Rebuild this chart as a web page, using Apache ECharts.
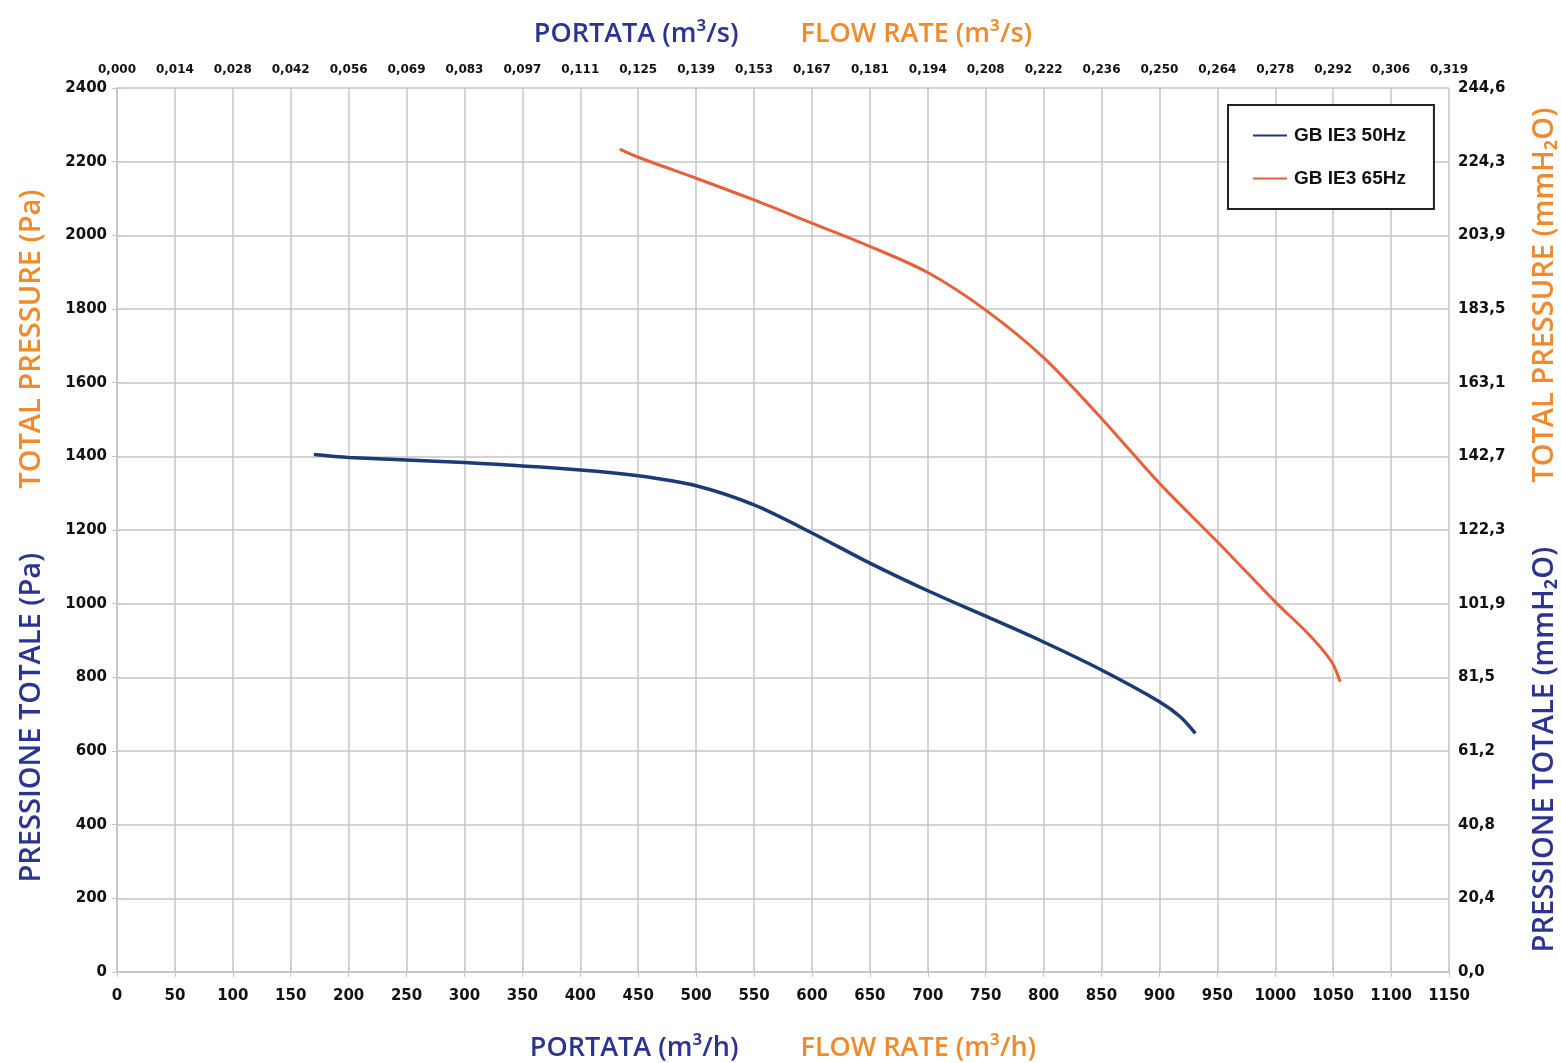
<!DOCTYPE html>
<html>
<head>
<meta charset="utf-8">
<script src="https://cdn.jsdelivr.net/npm/echarts@6/dist/echarts.min.js"></script>
<style>
  html, body { margin: 0; padding: 0; background: #fff; }
  #main { width: 1561px; height: 1063px; }
</style>
</head>
<body>
<div id="main"></div>
<script>
// curve points (flow m3/h, pressure Pa)
var blueX = [170, 200, 300, 400, 450, 500, 550, 600, 650, 700, 750, 800, 850, 900, 918, 931];
var blueY = [1405, 1397, 1383, 1363, 1347, 1320, 1268, 1192, 1110, 1035, 966, 896, 820, 734, 693, 648];
var orangeX = [434, 450, 500, 550, 600, 650, 700, 750, 800, 850, 900, 950, 1000, 1025, 1040, 1050, 1056];
var orangeY = [2234, 2212, 2155, 2096, 2033, 1970, 1899, 1797, 1668, 1503, 1327, 1168, 1005, 929, 878, 835, 788];

var seriesNames = ['GB IE3 50Hz', 'GB IE3 65Hz'];

// secondary axis labels (m3/s on top, mmH2O on the right)
var topTickLabels = ['0,000', '0,014', '0,028', '0,042', '0,056', '0,069', '0,083', '0,097', '0,111', '0,125',
    '0,139', '0,153', '0,167', '0,181', '0,194', '0,208', '0,222', '0,236', '0,250', '0,264',
    '0,278', '0,292', '0,306', '0,319'];
var rightTickLabels = ['0,0', '20,4', '40,8', '61,2', '81,5', '101,9', '122,3', '142,7', '163,1',
    '183,5', '203,9', '224,3', '244,6'];

var NAVY = '#2b3590';
var ORANGE = '#f08a2c';
var gridColor = '#c6c6c6';
var titleFont = "'Open Sans', sans-serif";

function pairs(xs, ys) {
    var out = [];
    for (let i = 0; i < xs.length; i++) {
        out.push([xs[i], ys[i]]);
    }
    return out;
}

function rich(size, gap) {
    return {
        b: { color: NAVY, fontSize: size, fontWeight: 600, fontFamily: titleFont },
        o: { color: ORANGE, fontSize: size, fontWeight: 600, fontFamily: titleFont },
        s: { fontSize: size, width: gap }
    };
}

var labelStyle = { color: '#111', fontWeight: 'bold', fontFamily: "'DejaVu Sans'" };
var plain = function (v) { return String(v); };

var myChart = echarts.init(document.getElementById('main'));

var option = {
    animation: false,
    backgroundColor: '#fff',
    grid: { left: 117, right: 112, top: 88, bottom: 91, outerBoundsMode: 'none', containLabel: false },
    legend: {
        data: seriesNames,
        orient: 'vertical',
        left: 1228,
        top: 105,
        padding: [21, 28, 21, 25],
        itemGap: 24,
        itemWidth: 34,
        itemHeight: 2,
        icon: 'rect',
        borderColor: '#222',
        borderWidth: 2,
        backgroundColor: '#fff',
        textStyle: { color: '#111', fontSize: 19, fontWeight: 'bold', fontFamily: "'Liberation Sans Narrow', 'Liberation Sans', sans-serif", padding: [0, 0, 0, 2] }
    },
    xAxis: [
        {
            type: 'value',
            position: 'bottom',
            min: 0, max: 1150, interval: 50,
            name: '{b|PORTATA (m³/h)}{s|}{o|FLOW RATE (m³/h)}',
            nameLocation: 'middle',
            nameGap: 63,
            nameTextStyle: { rich: rich(27, 62) },
            axisLine: { lineStyle: { color: gridColor, width: 1.5 } },
            axisTick: { show: true, length: 5, lineStyle: { color: gridColor } },
            axisLabel: Object.assign({ margin: 17, fontSize: 15, formatter: plain }, labelStyle),
            splitLine: { show: true, lineStyle: { color: gridColor, width: 1.5 } }
        },
        {
            type: 'value',
            position: 'top',
            min: 0, max: 1150, interval: 50,
            name: '{b|PORTATA (m³/s)}{s|}{o|FLOW RATE (m³/s)}',
            nameLocation: 'middle',
            nameGap: 40,
            nameTextStyle: { rich: rich(27, 62) },
            axisLine: { lineStyle: { color: gridColor, width: 1.5 } },
            axisTick: { show: true, length: 5, lineStyle: { color: gridColor } },
            axisLabel: Object.assign({
                margin: 12, fontSize: 12,
                formatter: function (v) { return topTickLabels[Math.round(v / 50)]; }
            }, labelStyle),
            splitLine: { show: false }
        }
    ],
    yAxis: [
        {
            type: 'value',
            position: 'left',
            min: 0, max: 2400, interval: 200,
            name: '{b|PRESSIONE TOTALE (Pa)}{s|}{o|TOTAL PRESSURE (Pa)}',
            nameLocation: 'middle',
            nameGap: 71,
            nameRotate: 90,
            nameTextStyle: { rich: rich(29, 64), padding: [0, 0, 0, -12] },
            axisLine: { show: true, lineStyle: { color: gridColor, width: 1.5 } },
            axisTick: { show: true, length: 5, lineStyle: { color: gridColor } },
            axisLabel: Object.assign({ margin: 10, fontSize: 15, formatter: plain }, labelStyle),
            splitLine: { show: true, lineStyle: { color: gridColor, width: 1.5 } }
        },
        {
            type: 'value',
            position: 'right',
            min: 0, max: 2400, interval: 200,
            name: '{b|PRESSIONE TOTALE (mmH₂O)}{s|}{o|TOTAL PRESSURE (mmH₂O)}',
            nameLocation: 'middle',
            nameGap: 81,
            nameRotate: 90,
            nameTextStyle: { rich: rich(29, 64) },
            axisLine: { show: true, lineStyle: { color: gridColor, width: 1.5 } },
            axisTick: { show: true, length: 5, lineStyle: { color: gridColor } },
            axisLabel: Object.assign({
                margin: 9, fontSize: 15,
                formatter: function (v) { return rightTickLabels[Math.round(v / 200)]; }
            }, labelStyle),
            splitLine: { show: false }
        }
    ],
    series: [
        {
            name: seriesNames[0],
            type: 'line',
            smooth: 0.3,
            showSymbol: false,
            symbol: 'none',
            data: pairs(blueX, blueY),
            itemStyle: { color: '#1c3a73' },
            lineStyle: { color: '#1c3a73', width: 3.5 }
        },
        {
            name: seriesNames[1],
            type: 'line',
            smooth: 0.3,
            showSymbol: false,
            symbol: 'none',
            data: pairs(orangeX, orangeY),
            itemStyle: { color: '#e8603a' },
            lineStyle: { color: '#e8603a', width: 3 }
        }
    ]
};

myChart.setOption(option);
</script>
</body>
</html>
